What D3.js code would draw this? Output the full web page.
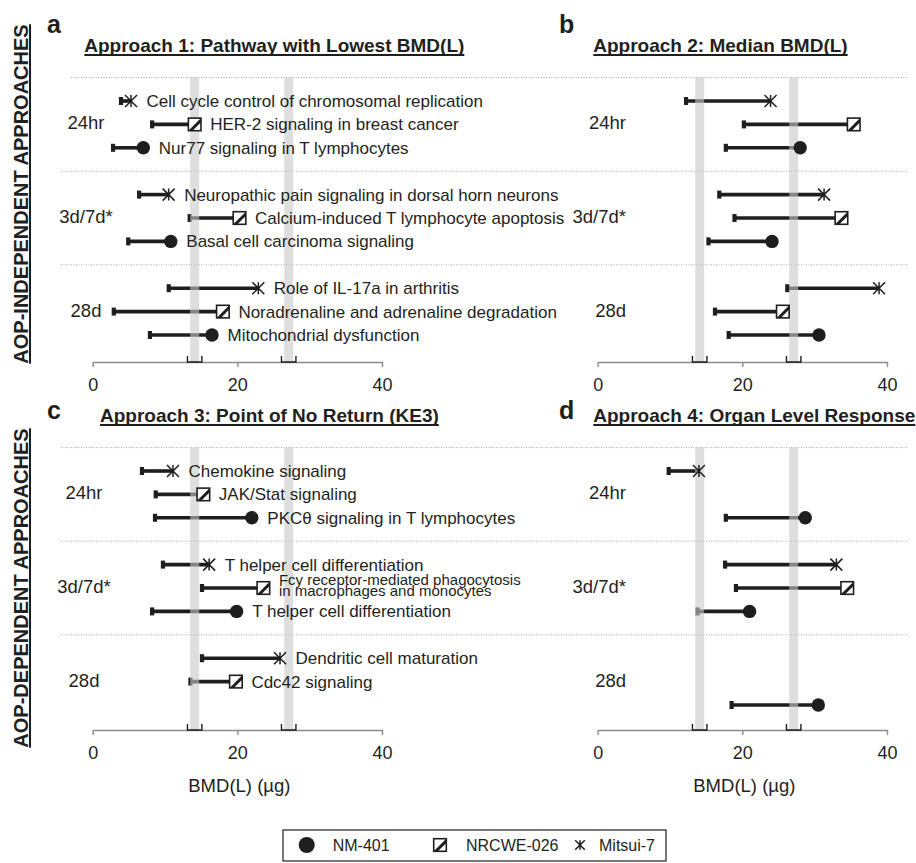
<!DOCTYPE html>
<html>
<head>
<meta charset="utf-8">
<script src="https://cdn.jsdelivr.net/npm/d3@7"></script>
<style>
  html, body { margin: 0; padding: 0; background: #fff; }
  svg { display: block; }
  text { font-family: "Liberation Sans", Arial, Helvetica, sans-serif; fill: #231f20; }
</style>
</head>
<body>
<svg id="chart" width="916" height="863"></svg>
<script>
// ---------------- DATA ----------------
const groups = ["24hr", "3d/7d*", "28d"];
// row order (top to bottom) inside every group
const series = ["Mitsui-7", "NRCWE-026", "NM-401"];
const legendOrder = ["NM-401", "NRCWE-026", "Mitsui-7"];
const xTicks = [0, 20, 40];
const xDomain = [0, 40];
const axisTitle = "BMD(L) (\u00b5g)";
const sideLabels = ["AOP-INDEPENDENT APPROACHES", "AOP-DEPENDENT APPROACHES"];

// reference bands (grey) and their intervals shown as brackets on the axis
const refBands = [14.1, 27.1];
const refBandLow = [13.1, 26.1];
const refBandHigh = [15.1, 28.1];

// values indexed [group][series]; null = no pathway
const a1Lower = [[3.9, 8.2, 2.8], [6.4, 13.4, 4.9], [10.5, 2.9, 7.9]];
const a1BMD   = [[5.3, 14.1, 7.0], [10.5, 20.3, 10.8], [22.9, 18.0, 16.5]];
const a1Labels = [
  ["Cell cycle control of chromosomal replication", "HER-2 signaling in breast cancer", "Nur77 signaling in T lymphocytes"],
  ["Neuropathic pain signaling in dorsal horn neurons", "Calcium-induced T lymphocyte apoptosis", "Basal cell carcinoma signaling"],
  ["Role of IL-17a in arthritis", "Noradrenaline and adrenaline degradation", "Mitochondrial dysfunction"]
];

const a2Lower = [[12.2, 20.2, 17.7], [16.8, 18.9, 15.3], [26.2, 16.2, 18.1]];
const a2BMD   = [[23.9, 35.4, 28.0], [31.3, 33.7, 24.1], [38.9, 25.6, 30.6]];

const a3Lower = [[6.8, 8.7, 8.6], [9.7, 15.1, 8.2], [15.1, 13.5, null]];
const a3BMD   = [[11.1, 15.3, 22.0], [16.1, 23.6, 19.9], [25.9, 19.8, null]];
const a3Labels = [
  ["Chemokine signaling", "JAK/Stat signaling", "PKC\u03b8 signaling in T lymphocytes"],
  ["T helper cell differentiation", "Fcy receptor-mediated phagocytosis\nin macrophages and monocytes", "T helper cell differentiation"],
  ["Dendritic cell maturation", "Cdc42 signaling", null]
];

const a4Lower = [[9.8, null, 17.7], [17.6, 19.1, 13.8], [null, null, 18.5]];
const a4BMD   = [[14.0, null, 28.7], [33.0, 34.5, 21.0], [null, null, 30.5]];

const panelLetters = ["a", "b", "c", "d"];
const panelTitles = [
  "Approach 1: Pathway with Lowest BMD(L)",
  "Approach 2: Median BMD(L)",
  "Approach 3: Point of No Return (KE3)",
  "Approach 4: Organ Level Response"
];

// ---------------- LAYOUT ----------------
const panels = [
  { letter: panelLetters[0], title: panelTitles[0], lower: a1Lower, bmd: a1BMD, labels: a1Labels, col: 0, row: 0, titleX: 84.3, glx: 86, gla: "middle" },
  { letter: panelLetters[1], title: panelTitles[1], lower: a2Lower, bmd: a2BMD, labels: null, col: 1, row: 0, titleX: 593.3, glx: 626, gla: "end" },
  { letter: panelLetters[2], title: panelTitles[2], lower: a3Lower, bmd: a3BMD, labels: a3Labels, col: 0, row: 1, titleX: 100, glx: 84, gla: "middle" },
  { letter: panelLetters[3], title: panelTitles[3], lower: a4Lower, bmd: a4BMD, labels: null, col: 1, row: 1, titleX: 593.3, glx: 626, gla: "end" }
];

const colRange = [[92.7, 382], [597.7, 887]];
const rowFirstY = [101, 471];
const rowStep = 23.4;
const axisY = [362, 730];
const titleY = [52, 422];
const letterX = [47, 559];
const letterY = [33, 419];

const svg = d3.select("#chart");
const FONT = '"Liberation Sans", Arial, Helvetica, sans-serif';
const INK = "#1e1e1e";

// separators (dotted, spanning both columns)
[0, 1].forEach(r => {
  const y = d3.scaleLinear().domain([0, 1]).range([rowFirstY[r], rowFirstY[r] + rowStep]);
  [-1, 3, 7].forEach((idx, k) => {
    svg.append("line")
      .attr("x1", (r === 0 && k === 0) ? 71 : 61).attr("x2", 908)
      .attr("y1", y(idx)).attr("y2", y(idx))
      .attr("stroke", "#a8a8a8").attr("stroke-width", 1)
      .attr("stroke-dasharray", "1,1.5");
  });
});

function drawMarker(g, name, cx, cy, k) {
  k = k || 1;
  if (name === "NM-401") {
    g.append("circle").attr("cx", cx).attr("cy", cy).attr("r", 6.7 * k).attr("fill", INK);
  } else if (name === "NRCWE-026") {
    const h = 6.3 * k;
    g.append("rect").attr("x", cx - h).attr("y", cy - h).attr("width", 2 * h).attr("height", 2 * h)
      .attr("fill", "#fff").attr("stroke", INK).attr("stroke-width", 1.6);
    const w = 4.2 * k;
    g.append("polygon")
      .attr("points", [[cx - h, cy + h], [cx - h + w, cy + h], [cx + h, cy - h + w], [cx + h, cy - h]].map(p => p.join(",")).join(" "))
      .attr("fill", INK);
  } else {
    const s = 6 * k;
    g.append("path")
      .attr("d", `M${cx - s},${cy - s}L${cx + s},${cy + s}M${cx - s},${cy + s}L${cx + s},${cy - s}M${cx},${cy - s}L${cx},${cy + s}`)
      .attr("stroke", INK).attr("stroke-width", 1.5).attr("fill", "none");
  }
}

panels.forEach(p => {
  const x = d3.scaleLinear().domain(xDomain).range(colRange[p.col]);
  const y = d3.scaleLinear().domain([0, 1]).range([rowFirstY[p.row], rowFirstY[p.row] + rowStep]);
  const aY = axisY[p.row];
  const g = svg.append("g");

  const rows = [];
  groups.forEach((grp, gi) => {
    series.forEach((s, si) => {
      const lo = p.lower[gi][si], hi = p.bmd[gi][si];
      if (lo == null || hi == null) return;
      rows.push({ gi, si, s, lo, hi, idx: gi * 4 + si, label: p.labels ? p.labels[gi][si] : null });
    });
  });

  // lines + caps (under bands)
  const lg = g.append("g");
  rows.forEach(d => {
    lg.append("line").attr("x1", x(d.lo)).attr("x2", x(d.hi)).attr("y1", y(d.idx)).attr("y2", y(d.idx))
      .attr("stroke", INK).attr("stroke-width", 3.6);
    lg.append("rect").attr("x", x(d.lo) - 2).attr("y", y(d.idx) - 4).attr("width", 4.2).attr("height", 8).attr("fill", INK);
  });

  // axis
  const axis = d3.axisBottom(x).tickValues(xTicks).tickSize(5).tickSizeOuter(0).tickPadding(11);
  const ag = g.append("g").attr("transform", `translate(0,${aY})`).call(axis);
  ag.select(".domain").attr("stroke", "#8c8c8c").attr("stroke-width", 1.4);
  ag.selectAll(".tick line").attr("stroke", "#8c8c8c").attr("stroke-width", 1.4);
  ag.selectAll(".tick text").attr("font-size", 18).attr("font-family", FONT).attr("fill", "#231f20");

  // grey reference bands (semi transparent, over lines)
  refBands.forEach(v => {
    g.append("rect").attr("x", x(v) - 4.5).attr("width", 9)
      .attr("y", y(-1)).attr("height", aY - y(-1))
      .attr("fill", "#c8c8c8").attr("opacity", 0.6);
  });
  // interval brackets on axis
  refBandLow.forEach((lo, i) => {
    const hi = refBandHigh[i];
    g.append("path")
      .attr("d", `M${x(lo)},${aY - 6}V${aY}H${x(hi)}V${aY - 6}`)
      .attr("stroke", INK).attr("stroke-width", 1.4).attr("fill", "none");
  });

  // markers
  rows.forEach(d => drawMarker(g, d.s, x(d.hi), y(d.idx)));

  // pathway labels
  rows.forEach(d => {
    if (!d.label) return;
    const parts = d.label.split("\n");
    if (parts.length === 1) {
      g.append("text").attr("x", x(d.hi) + 15.5).attr("y", y(d.idx) + 6)
        .attr("font-size", 17).text(d.label);
    } else {
      parts.forEach((t, i) => {
        g.append("text").attr("x", x(d.hi) + 15.5).attr("y", y(d.idx) - 3.5 + i * 11)
          .attr("font-size", 15).text(t);
      });
    }
  });

  // group labels
  groups.forEach((grp, gi) => {
    g.append("text").attr("x", p.glx).attr("y", y(gi * 4 + 1) + 5)
      .attr("text-anchor", p.gla).attr("font-size", 18.5).text(grp);
  });

  // axis title (bottom row only)
  if (p.row === 1) {
    g.append("text").attr("x", x(20) + 2).attr("y", aY + 62).attr("text-anchor", "middle")
      .attr("font-size", 18.5).text(axisTitle);
  }

  // panel letter
  g.append("text").attr("x", letterX[p.col]).attr("y", letterY[p.row])
    .attr("font-size", 25).attr("font-weight", "bold").text(p.letter);

  // title with underline
  const tt = g.append("text").attr("x", p.titleX).attr("y", titleY[p.row])
    .attr("font-size", 19).attr("font-weight", "bold").text(p.title);
  const tw = tt.node().getComputedTextLength();
  g.append("line").attr("x1", p.titleX).attr("x2", p.titleX + tw)
    .attr("y1", titleY[p.row] + 3).attr("y2", titleY[p.row] + 3)
    .attr("stroke", INK).attr("stroke-width", 2);
});

// side labels
const sideCenters = [194, 588];
sideLabels.forEach((t, i) => {
  const tx = svg.append("text").attr("transform", `translate(28,${sideCenters[i]}) rotate(-90)`)
    .attr("text-anchor", "middle").attr("font-size", 20).attr("font-weight", "bold").text(t);
  const w = tx.node().getComputedTextLength();
  svg.append("line").attr("x1", 30).attr("x2", 30)
    .attr("y1", sideCenters[i] - w / 2).attr("y2", sideCenters[i] + w / 2)
    .attr("stroke", INK).attr("stroke-width", 2);
});

// legend
const leg = svg.append("g");
const legMarkerX = [306.7, 440, 580];
const legTextDx = [26, 26, 19];
const legBox = leg.append("rect").attr("x", 283).attr("y", 830).attr("height", 31)
  .attr("fill", "#fff").attr("stroke", INK).attr("stroke-width", 1.2);
const legY = 845;
let legEnd = 0;
legendOrder.forEach((name, i) => {
  drawMarker(leg, name, legMarkerX[i], legY, name === "NM-401" ? 1.2 : (name === "Mitsui-7" ? 0.8 : 1));
  const t = leg.append("text").attr("x", legMarkerX[i] + legTextDx[i]).attr("y", legY + 6).attr("font-size", 16).text(name);
  legEnd = legMarkerX[i] + legTextDx[i] + t.node().getComputedTextLength();
});
legBox.attr("width", legEnd + 11 - 283);
</script>
</body>
</html>
